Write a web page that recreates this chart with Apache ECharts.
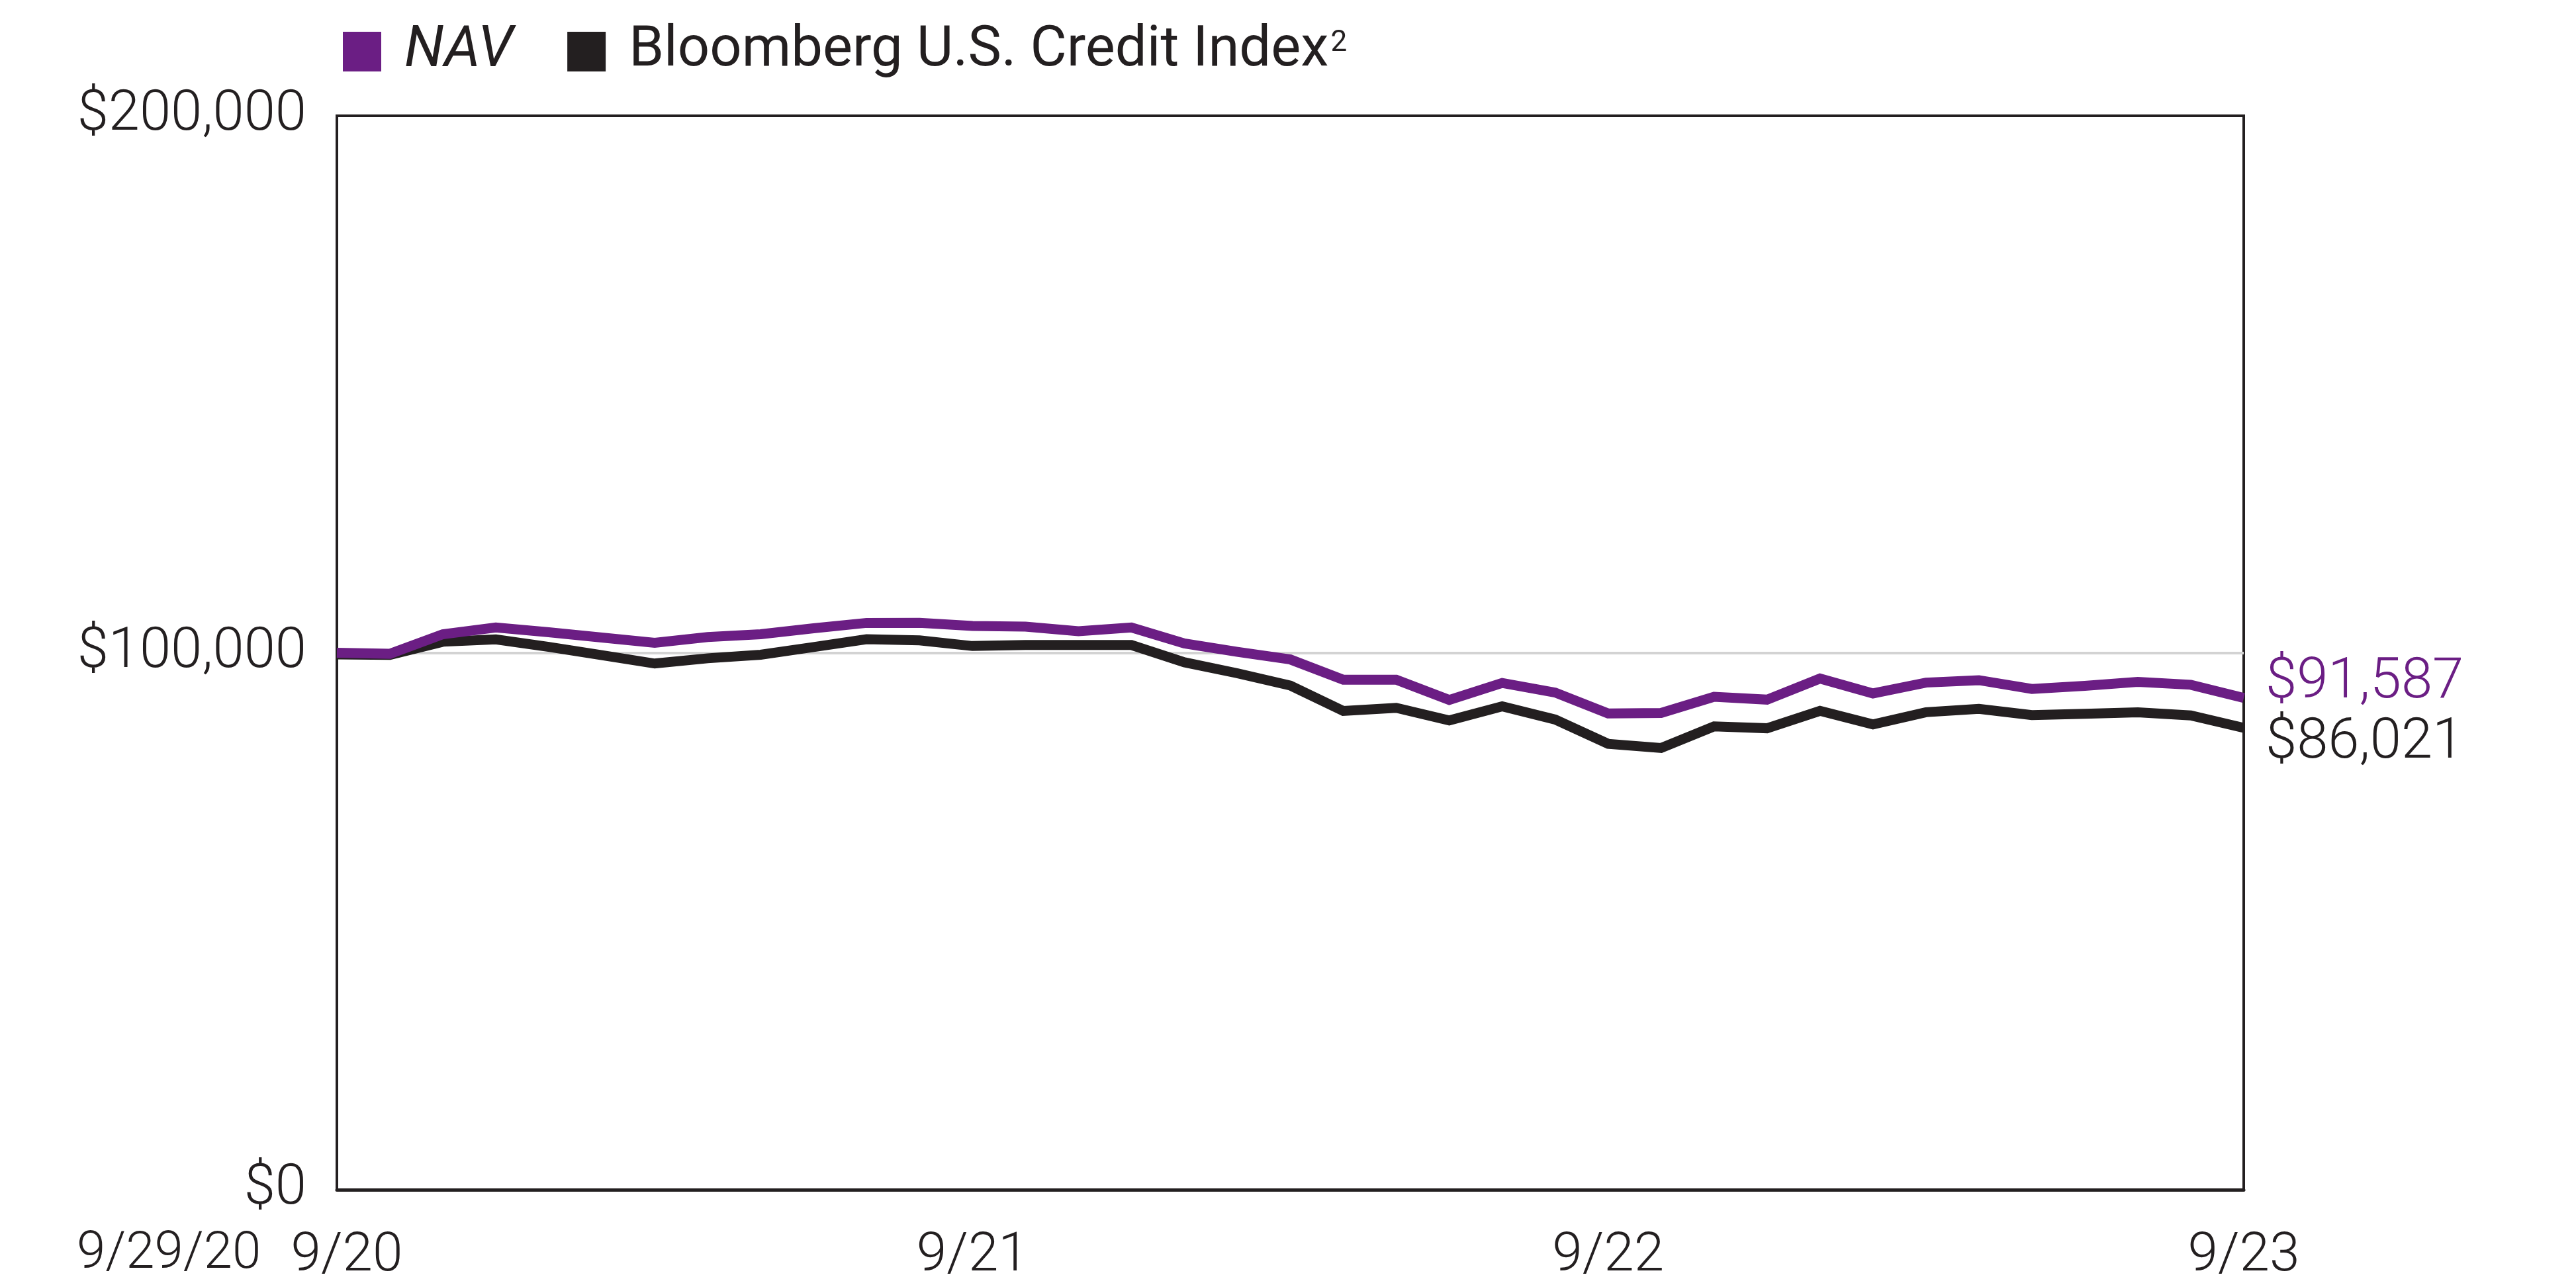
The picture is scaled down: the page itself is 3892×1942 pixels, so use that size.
<!DOCTYPE html>
<html>
<head>
<meta charset="utf-8">
<script src="https://cdn.jsdelivr.net/npm/echarts@6/dist/echarts.min.js"></script>
<style>
html,body{margin:0;padding:0;background:#fff;}
#chart{width:3892px;height:1942px;}
</style>
</head>
<body>
<div id="chart"></div>
<script>
// Month-end categories 9/20 .. 9/23
const categories = ['9/20','10/20','11/20','12/20','1/21','2/21','3/21','4/21','5/21','6/21','7/21','8/21',
  '9/21','10/21','11/21','12/21','1/22','2/22','3/22','4/22','5/22','6/22','7/22','8/22',
  '9/22','10/22','11/22','12/22','1/23','2/23','3/23','4/23','5/23','6/23','7/23','8/23','9/23'];
const xTickLabels = ['9/20','9/21','9/22','9/23'];
const startLabel = '9/29/20';
const yTickValues = [0, 100000, 200000];

const navName = 'NAV';
const navValues = [100000, 99800, 103450, 104720, 103820, 102830, 101850, 102920, 103450, 104560, 105560, 105580,
  105000, 104860, 104000, 104700, 101730, 100170, 98750, 94970, 94970, 91210, 94380, 92590,
  88690, 88790, 91790, 91270, 95200, 92430, 94440, 94890, 93260, 93840, 94580, 94040, 91587];

const indexName = 'Bloomberg U.S. Credit Index';
const indexValues = [99700, 99600, 102050, 102480, 101100, 99550, 97990, 98970, 99630, 101070, 102520, 102300,
  101250, 101460, 101460, 101440, 98220, 96180, 93900, 89160, 89740, 87400, 90020, 87560,
  83040, 82260, 86290, 85940, 89180, 86650, 88930, 89550, 88380, 88630, 88910, 88330, 86021];

const PURPLE = '#6b1e84';
const BLACK = '#231f20';
const FONT = 'Roboto, "Liberation Sans", Arial, sans-serif';

const money = v => '$' + Math.round(v).toLocaleString('en-US');

const chart = echarts.init(document.getElementById('chart'));
chart.setOption({
  animation: false,
  backgroundColor: '#ffffff',
  textStyle: { fontFamily: FONT },
  grid: {
    left: 509, top: 175, right: 502, bottom: 144,
    show: true, borderColor: BLACK, borderWidth: 4, backgroundColor: 'transparent'
  },
  legend: {
    left: 513, top: 30,
    icon: 'rect',
    itemWidth: 58, itemHeight: 60, itemGap: 82,
    selectedMode: false,
    data: [
      { name: navName, textStyle: { fontStyle: 'italic' } },
      { name: indexName }
    ],
    formatter: name => name === indexName ? '{m|' + name + '}{s|2}' : name,
    textStyle: {
      fontFamily: FONT, fontWeight: 400, fontSize: 86, color: BLACK,
      padding: [0, 0, 0, 30],
      rich: {
        m: { fontFamily: FONT, fontWeight: 400, fontSize: 85, color: BLACK },
        s: { fontFamily: FONT, fontWeight: 400, fontSize: 44, color: BLACK, verticalAlign: 'top', padding: [8, 0, 0, 3] }
      }
    }
  },
  xAxis: {
    type: 'category',
    data: categories,
    boundaryGap: false,
    axisLine: { show: true, lineStyle: { color: BLACK, width: 5 } },
    axisTick: { show: false },
    axisLabel: {
      interval: 0,
      margin: 60,
      fontFamily: FONT, fontWeight: 300, fontSize: 82, color: BLACK,
      formatter: (v, i) => {
        if (xTickLabels.indexOf(v) < 0) return '';
        return i === 0 ? '{f|' + v + '}' : v;
      },
      rich: {
        f: { fontFamily: FONT, fontWeight: 300, fontSize: 82, color: BLACK, padding: [0, 0, 0, 30] }
      }
    },
    splitLine: { show: false }
  },
  yAxis: {
    type: 'value',
    min: yTickValues[0], max: yTickValues[2], interval: yTickValues[1] - yTickValues[0],
    axisLine: { show: true, lineStyle: { color: BLACK, width: 4 } },
    axisTick: { show: false },
    axisLabel: {
      margin: 46,
      fontFamily: FONT, fontWeight: 300, fontSize: 85, color: BLACK,
      formatter: v => money(v)
    },
    splitLine: { show: true, showMinLine: false, showMaxLine: false, lineStyle: { color: '#d3d3d3', width: 4 } }
  },
  graphic: [{
    type: 'text',
    left: 116, top: 1857,
    style: { text: startLabel, font: '300 78px ' + FONT, fill: BLACK }
  }],
  series: [
    {
      name: indexName, type: 'line', data: indexValues,
      showSymbol: false, symbol: 'none',
      itemStyle: { color: BLACK },
      lineStyle: { color: BLACK, width: 15, join: 'miter', cap: 'butt' },
      endLabel: {
        show: true, distance: 33, offset: [0, 24],
        formatter: p => money(p.value),
        fontFamily: FONT, fontWeight: 300, fontSize: 85, color: BLACK
      },
      z: 2
    },
    {
      name: navName, type: 'line', data: navValues,
      showSymbol: false, symbol: 'none',
      itemStyle: { color: PURPLE },
      lineStyle: { color: PURPLE, width: 15, join: 'miter', cap: 'butt' },
      endLabel: {
        show: true, distance: 33, offset: [0, -22],
        formatter: p => money(p.value),
        fontFamily: FONT, fontWeight: 300, fontSize: 85, color: PURPLE
      },
      z: 3
    }
  ]
});
</script>
</body>
</html>
